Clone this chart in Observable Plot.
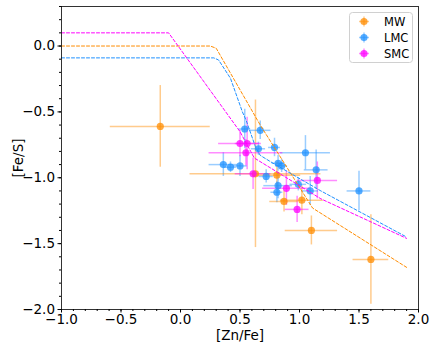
<!DOCTYPE html>
<html>
<head>
<meta charset="utf-8">
<script src="https://cdn.jsdelivr.net/npm/d3@7"></script>
<script src="https://cdn.jsdelivr.net/npm/@observablehq/plot@0.6"></script>
<style>
  html, body { margin: 0; padding: 0; background: #fff; }
  #wrap { position: relative; width: 436px; height: 349px; font-family: "DejaVu Sans", sans-serif; }
  #legend { position: absolute; left: 349px; top: 12px; }
</style>
</head>
<body>
<div id="wrap"></div>
<script>
// ---- data ----
const xTicks = [-1.0, -0.5, 0.0, 0.5, 1.0, 1.5, 2.0];
const yTicks = [-2.0, -1.5, -1.0, -0.5, 0.0];

const seriesNames = ["MW", "LMC", "SMC"];
const seriesColors = ["#ff8c00", "#1e90ff", "#ff00ff"];

const mwX    = [-0.17, 0.63, 0.81, 0.87, 1.02, 1.10, 1.60];
const mwY    = [-0.61, -0.97, -0.98, -1.18, -1.17, -1.40, -1.62];
const mwXerr = [0.42, 0.55, 0.20, 0.12, 0.18, 0.22, 0.15];
const mwYerr = [0.31, 0.56, 0.10, 0.08, 0.11, 0.11, 0.34];

const lmcX    = [0.54, 0.67, 0.655, 0.79, 1.05, 0.36, 0.42, 0.50, 0.82, 0.85, 1.14, 0.72, 0.82, 0.81, 0.99, 1.09, 1.50];
const lmcY    = [-0.63, -0.64, -0.78, -0.77, -0.81, -0.90, -0.92, -0.91, -0.89, -0.91, -0.94, -0.99, -1.06, -1.11, -1.05, -1.10, -1.10];
const lmcXerr = [0.05, 0.09, 0.06, 0.05, 0.21, 0.12, 0.05, 0.06, 0.05, 0.05, 0.10, 0.06, 0.12, 0.05, 0.07, 0.07, 0.10];
const lmcYerr = [0.15, 0.07, 0.05, 0.07, 0.13, 0.09, 0.04, 0.08, 0.06, 0.05, 0.15, 0.05, 0.10, 0.08, 0.05, 0.11, 0.15];

const smcX    = [0.50, 0.56, 0.55, 0.61, 0.89, 1.15, 0.98];
const smcY    = [-0.74, -0.74, -0.81, -0.97, -1.08, -1.02, -1.24];
const smcXerr = [0.18, 0.10, 0.31, 0.15, 0.20, 0.17, 0.10];
const smcYerr = [0.10, 0.20, 0.10, 0.12, 0.13, 0.14, 0.10];

const mwLineX  = [-1.0, 0.25, 0.30, 0.67, 1.11, 1.90];
const mwLineY  = [0.0, 0.0, -0.017, -0.60, -1.23, -1.68];
const lmcLineX = [-1.0, 0.28, 0.32, 0.42, 0.52, 0.55, 0.63, 0.67, 0.76, 1.18, 1.90];
const lmcLineY = [-0.09, -0.09, -0.106, -0.245, -0.50, -0.56, -0.765, -0.83, -0.88, -1.10, -1.45];
const smcLineX = [-1.0, -0.10, 0.50, 0.59, 0.62, 1.18, 1.90];
const smcLineY = [0.10, 0.10, -0.65, -0.80, -0.85, -1.16, -1.46];

// ---- build tables ----
function pts(name, xs, ys, xe, ye) {
  return xs.map((x, i) => ({series: name, x, y: ys[i], xe: xe[i], ye: ye[i]}));
}
function line(name, xs, ys) {
  return xs.map((x, i) => ({series: name, x, y: ys[i]}));
}
const points = [
  ...pts("MW", mwX, mwY, mwXerr, mwYerr),
  ...pts("LMC", lmcX, lmcY, lmcXerr, lmcYerr),
  ...pts("SMC", smcX, smcY, smcXerr, smcYerr)
];
const lines = [
  line("MW", mwLineX, mwLineY),
  line("LMC", lmcLineX, lmcLineY),
  line("SMC", smcLineX, smcLineY)
];
const fmt = d3.format(".1f");
const xMinor = d3.range(-10, 21).map(d => d / 10);
const yMinor = d3.range(-20, 4).map(d => d / 10);

const chart = Plot.plot({
  width: 436,
  height: 349,
  marginLeft: 61,
  marginRight: 18,
  marginTop: 6,
  marginBottom: 40,
  style: {fontFamily: "DejaVu Sans, sans-serif", color: "#000", background: "#fff"},
  x: {domain: [-1, 2]},
  y: {domain: [-2, 0.3]},
  color: {domain: seriesNames, range: seriesColors},
  marks: [
    Plot.axisX(xMinor, {tickSize: 2, text: null, label: null}),
    Plot.axisY(yMinor, {tickSize: 2, text: null, label: null}),
    Plot.axisX(xTicks, {tickSize: 3.5, tickPadding: 1, tickFormat: fmt, fontSize: 13.5, label: "[Zn/Fe]", labelAnchor: "center", labelArrow: "none", labelOffset: 30}),
    Plot.axisY(yTicks, {tickSize: 3.5, tickPadding: 3, tickFormat: fmt, fontSize: 13.5, label: "[Fe/S]", labelAnchor: "center", labelArrow: "none", labelOffset: 48}),
    Plot.ruleX(points, {x: "x", y1: d => d.y - d.ye, y2: d => d.y + d.ye, stroke: "series", strokeOpacity: 0.45, strokeWidth: 1.5}),
    Plot.ruleY(points, {y: "y", x1: d => d.x - d.xe, x2: d => d.x + d.xe, stroke: "series", strokeOpacity: 0.45, strokeWidth: 1.5}),
    Plot.dot(points, {x: "x", y: "y", fill: "series", fillOpacity: 0.75, r: 3.6}),
    ...lines.map(l => Plot.line(l, {x: "x", y: "y", stroke: "series", strokeWidth: 1, strokeDasharray: "3,2"})),
    Plot.frame({stroke: "#000", strokeWidth: 0.8})
  ]
});

const wrap = document.getElementById("wrap");
wrap.appendChild(chart);

// legend (inside plot area, upper right)
const leg = d3.select(wrap).append("svg").attr("id", "legend").attr("width", 64).attr("height", 52);
leg.append("rect").attr("x", 0.5).attr("y", 0.5).attr("width", 63).attr("height", 50).attr("rx", 3)
  .attr("fill", "#fff").attr("fill-opacity", 0.8).attr("stroke", "#d0d0d0");
seriesNames.forEach((name, i) => {
  const cy = 9.5 + i * 16;
  const g = leg.append("g");
  g.append("line").attr("x1", 10).attr("x2", 20).attr("y1", cy).attr("y2", cy).attr("stroke", seriesColors[i]).attr("stroke-opacity", 0.45).attr("stroke-width", 1.5);
  g.append("line").attr("x1", 15).attr("x2", 15).attr("y1", cy - 5).attr("y2", cy + 5).attr("stroke", seriesColors[i]).attr("stroke-opacity", 0.45).attr("stroke-width", 1.5);
  g.append("circle").attr("cx", 15).attr("cy", cy).attr("r", 3.6).attr("fill", seriesColors[i]).attr("fill-opacity", 0.75);
  g.append("text").attr("x", 35).attr("y", cy).attr("dy", "0.36em").attr("font-size", 11.5).attr("font-family", "DejaVu Sans, sans-serif").attr("fill", "#000").text(name);
});
</script>
</body>
</html>
